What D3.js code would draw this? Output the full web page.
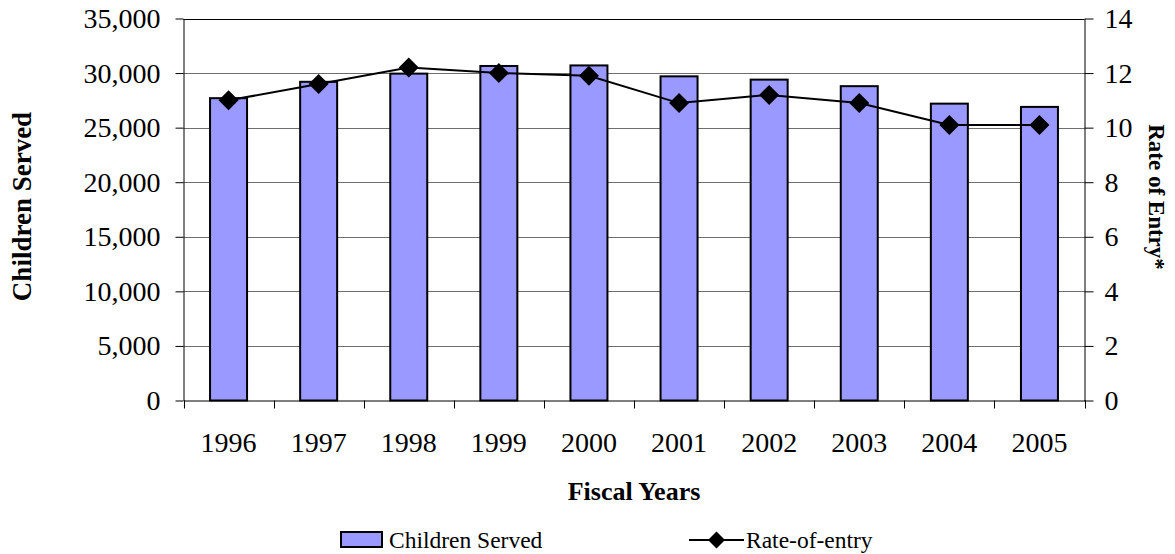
<!DOCTYPE html>
<html>
<head>
<meta charset="utf-8">
<script src="https://cdn.jsdelivr.net/npm/d3@7"></script>
<style>
  html, body { margin: 0; padding: 0; background: #fff; }
  svg text { font-family: "Liberation Serif", serif; }
</style>
</head>
<body>
<svg id="chart" width="1175" height="554"></svg>
<script>
// Fiscal years on the category axis
const years = ["1996", "1997", "1998", "1999", "2000", "2001", "2002", "2003", "2004", "2005"];
// Number of children served each year (left axis)
const childrenServed = [27700, 29200, 29950, 30650, 30700, 29700, 29400, 28800, 27200, 26900];
// Rate of entry each year (right axis)
const rateOfEntry = [11.0, 11.6, 12.2, 12.0, 11.9, 10.9, 11.2, 10.9, 10.1, 10.1];
// Axis ticks
const leftTicks = [0, 5000, 10000, 15000, 20000, 25000, 30000, 35000];
const rightTicks = [0, 2, 4, 6, 8, 10, 12, 14];

const FONT = "Liberation Serif";
const svg = d3.select("#chart");
const plot = { left: 183.5, right: 1084.5, top: 18.5, bottom: 400.5 };

const x = d3.scaleBand().domain(years).range([plot.left, plot.right]);
const yL = d3.scaleLinear().domain([0, 35000]).range([plot.bottom, plot.top]);
const yR = d3.scaleLinear().domain([0, 14]).range([plot.bottom, plot.top]);

// Horizontal gridlines
svg.append("g")
  .selectAll("line")
  .data(leftTicks.filter(t => t > 0))
  .join("line")
  .attr("x1", plot.left).attr("x2", plot.right)
  .attr("y1", d => Math.round(yL(d)) + 0.5).attr("y2", d => Math.round(yL(d)) + 0.5)
  .attr("stroke", d => d === 35000 ? "#000" : "#6e6e6e")
  .attr("stroke-width", 1);

// Bars
const barW = 37;
svg.append("g")
  .selectAll("rect")
  .data(years)
  .join("rect")
  .attr("x", (d) => x(d) + x.bandwidth() / 2 - barW / 2)
  .attr("y", (d, i) => yL(childrenServed[i]))
  .attr("width", barW)
  .attr("height", (d, i) => plot.bottom - yL(childrenServed[i]))
  .attr("fill", "#9999ff")
  .attr("stroke", "#000")
  .attr("stroke-width", 2);

// Left axis
const fmt = d3.format(",");
const gL = svg.append("g")
  .attr("transform", `translate(${plot.left},0)`)
  .call(d3.axisLeft(yL).tickValues(leftTicks).tickFormat(fmt).tickSize(8).tickSizeOuter(0).tickPadding(15));
// Right axis
const gR = svg.append("g")
  .attr("transform", `translate(${plot.right},0)`)
  .call(d3.axisRight(yR).tickValues(rightTicks).tickSize(9).tickSizeOuter(0).tickPadding(11));
// Bottom axis: labels centred in each category
const gB = svg.append("g")
  .attr("transform", `translate(0,${plot.bottom})`)
  .call(d3.axisBottom(x).tickSize(0).tickPadding(32));
// Tick marks at category boundaries
const bounds = years.map(d => x(d)).concat([plot.right]);
svg.append("g")
  .selectAll("line")
  .data(bounds)
  .join("line")
  .attr("x1", d => Math.round(d) + 0.5).attr("x2", d => Math.round(d) + 0.5)
  .attr("y1", plot.bottom).attr("y2", plot.bottom + 8)
  .attr("stroke", "#000");

[gL, gR, gB].forEach(g => {
  g.attr("font-family", FONT).attr("font-size", 28);
  g.selectAll("text").attr("font-family", FONT).attr("font-size", 28).attr("fill", "#000");
  g.selectAll("line, .domain").attr("stroke", "#000");
});

// Rate-of-entry line with diamond markers
const line = d3.line()
  .x((d, i) => x(years[i]) + x.bandwidth() / 2)
  .y(d => yR(d));
svg.append("path")
  .datum(rateOfEntry)
  .attr("d", line)
  .attr("fill", "none")
  .attr("stroke", "#000")
  .attr("stroke-width", 2);

const diamond = (cx, cy, r) => `M${cx},${cy - r}L${cx + r},${cy}L${cx},${cy + r}L${cx - r},${cy}Z`;
svg.append("g")
  .selectAll("path")
  .data(rateOfEntry)
  .join("path")
  .attr("d", (d, i) => diamond(x(years[i]) + x.bandwidth() / 2, yR(d), 10))
  .attr("fill", "#000");

// Axis titles
svg.append("text")
  .attr("transform", "translate(31,206.5) rotate(-90)")
  .attr("text-anchor", "middle").attr("font-family", FONT)
  .attr("font-size", 27).attr("font-weight", "bold")
  .text("Children Served");
svg.append("text")
  .attr("transform", "translate(1149,197) rotate(90)")
  .attr("text-anchor", "middle").attr("font-family", FONT)
  .attr("font-size", 23).attr("font-weight", "bold")
  .text("Rate of Entry*");
svg.append("text")
  .attr("x", 634).attr("y", 500)
  .attr("text-anchor", "middle").attr("font-family", FONT)
  .attr("font-size", 26).attr("font-weight", "bold")
  .text("Fiscal Years");

// Legend
const lg = svg.append("g").attr("font-family", FONT);
lg.append("rect")
  .attr("x", 341).attr("y", 532).attr("width", 41).attr("height", 15)
  .attr("fill", "#9999ff").attr("stroke", "#000").attr("stroke-width", 2);
lg.append("text").attr("x", 389).attr("y", 548).attr("font-size", 23.5).text("Children Served");
lg.append("line").attr("x1", 689).attr("x2", 744).attr("y1", 540).attr("y2", 540)
  .attr("stroke", "#000").attr("stroke-width", 2);
lg.append("path").attr("d", diamond(716.5, 540, 8.5)).attr("fill", "#000");
lg.append("text").attr("x", 746).attr("y", 548).attr("font-size", 23.5).text("Rate-of-entry");
</script>
</body>
</html>
